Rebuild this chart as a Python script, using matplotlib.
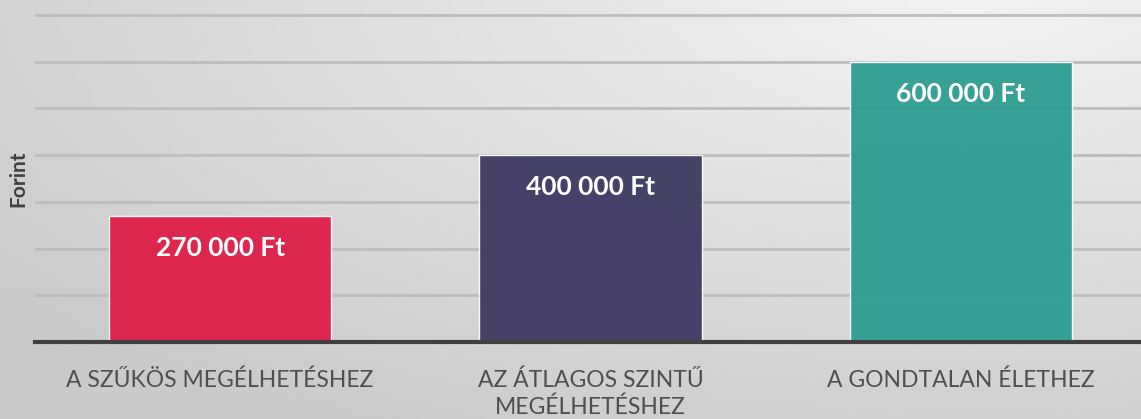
import numpy as np
import matplotlib
matplotlib.use("Agg")
import matplotlib.pyplot as plt

plt.rcParams['font.family'] = ['Lato', 'DejaVu Sans']

# adatok
categories = ['A SZŰKÖS MEGÉLHETÉSHEZ', 'AZ ÁTLAGOS SZINTŰ\nMEGÉLHETÉSHEZ', 'A GONDTALAN ÉLETHEZ']
values = [270000, 400000, 600000]
labels = ['270 000 Ft', '400 000 Ft', '600 000 Ft']
colors = ['#de1e48', '#3d3962', '#2d9d91']

fig = plt.figure(figsize=(11.41, 4.19), dpi=100)

# szurke atmenetes hatter
bg = fig.add_axes([0, 0, 1, 1], zorder=-10)
yy, xx = np.mgrid[0:1:200j, 0:1:400j]
dist = np.sqrt(((xx - 0.85) * 1.2) ** 2 + (yy * 1.1) ** 2)
shade = 0.95 - 0.16 * np.clip(dist, 0, 1.3) / 1.3
bg.imshow(shade, cmap='gray', vmin=0, vmax=1, aspect='auto', extent=[0, 1, 1, 0])
bg.set_xlim(0, 1)
bg.set_ylim(1, 0)
bg.axis('off')

# a tengely kicsit tullog a kep jobb szelen
ax = fig.add_axes([35 / 1141, 1 - 342 / 419, 1111 / 1141, 342 / 419])
ax.patch.set_alpha(0)

x = np.arange(len(categories))
bars = ax.bar(x, values, width=0.6, color=colors, alpha=0.95,
              edgecolor=(1, 1, 1, 0.5), linewidth=1, zorder=3)

ax.set_ylim(0, 732000)
ax.set_xlim(-0.5, 2.5)
ax.set_yticks(np.arange(100000, 700001, 100000))
ax.yaxis.grid(True, color='#bdbdbd', linewidth=2, zorder=0)
ax.set_axisbelow(True)
ax.tick_params(axis='y', length=0, labelleft=False)
ax.tick_params(axis='x', length=0, pad=20)
ax.set_xticks(x)
ax.set_xticklabels(categories, fontsize=16.5, color='#4f4f4f', linespacing=1.3)
for lbl in ax.get_xticklabels():
    lbl.set_verticalalignment('top')

for s in ['top', 'right', 'left']:
    ax.spines[s].set_visible(False)
ax.spines['bottom'].set_color('#404040')
ax.spines['bottom'].set_linewidth(3)
ax.spines['bottom'].set_zorder(5)

for b, t in zip(bars, labels):
    ax.annotate(t, (b.get_x() + b.get_width() / 2, b.get_height()),
                xytext=(0, -32), textcoords='offset pixels',
                ha='center', va='center', color='white', fontsize=19,
                fontweight='bold', zorder=6)

fig.text(18 / 1141, 1 - 179 / 419, 'Forint', rotation=90, ha='center', va='center',
         fontsize=15, fontweight='bold', color='#404040')

fig.savefig('out.png', dpi=100)
